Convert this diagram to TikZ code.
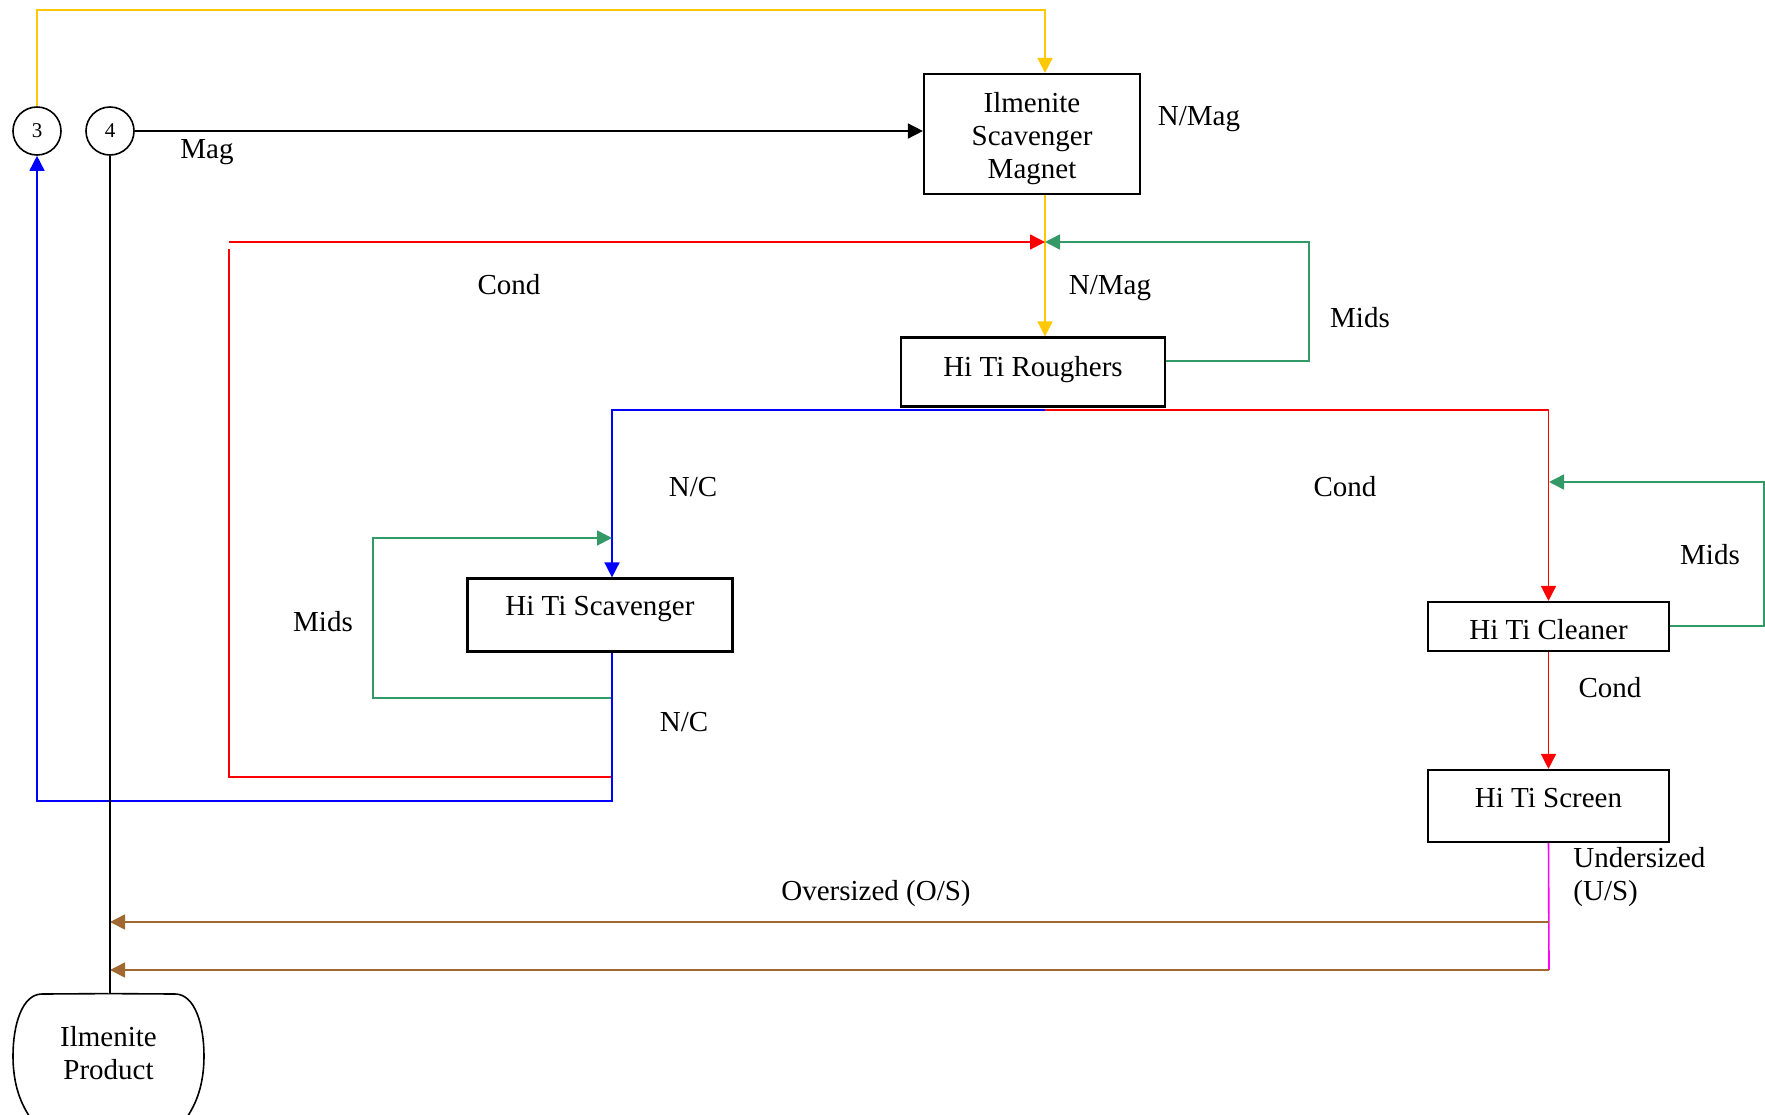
\documentclass[tikz,border=0pt]{standalone}
\usepackage{fontspec}
\setmainfont{Liberation Serif}
\usetikzlibrary{arrows.meta}
\definecolor{cyel}{RGB}{255,200,0}
\definecolor{cred}{RGB}{255,0,0}
\definecolor{cgreen}{RGB}{51,153,102}
\definecolor{cblue}{RGB}{0,0,255}
\definecolor{cbrown}{RGB}{160,105,50}
\definecolor{cmag}{RGB}{255,0,255}
\tikzset{
  unitbox/.style={draw=black,line width=1.1pt,inner sep=0pt},
  numcirc/.style={circle,draw=black,line width=0.8pt,minimum size=24pt,inner sep=0pt,font=\fontsize{10.5}{12}\selectfont},
  lbl/.style={inner sep=0pt,font=\fontsize{14.5}{16.5}\selectfont,align=center},
  flow/.style={line width=0.8pt},
  tip/.style={-{Triangle[length=7.5pt,width=7.5pt]}}
}
\begin{document}
\begin{tikzpicture}[x=0.5pt,y=-0.5pt]
\useasboundingbox (0,0) rectangle (1765,1114);
\clip (0,0) rectangle (1765,1114);
% nodes
\node[numcirc] (c3) at (37,131) {3};
\node[numcirc] (c4) at (110,131) {4};
\node[unitbox,minimum width=108pt,minimum height=60pt] (ism) at (1032,134) {};
\node[lbl] (ismt) at (1032,138.5) {Ilmenite\\Scavenger\\Magnet};
\node[unitbox,minimum width=132pt,minimum height=34.5pt] (rough) at (1033,372) {};
\node[lbl] (rought) at (1033,370) {Hi Ti Roughers};
\node[unitbox,minimum width=132.5pt,minimum height=36.5pt] (scav) at (600,615) {};
\node[lbl] (scavt) at (600,609.5) {Hi Ti Scavenger};
\node[unitbox,minimum width=120.5pt,minimum height=24.5pt] (clean) at (1548.5,626.5) {};
\node[lbl] (cleant) at (1548.5,630) {Hi Ti Cleaner};
\node[unitbox,minimum width=120.5pt,minimum height=36pt] (screen) at (1548.5,806) {};
\node[lbl] (screent) at (1548.5,798) {Hi Ti Screen};
\node[lbl,minimum width=95.5pt,minimum height=59.5pt] (prod) at (108.5,1053.5) {Ilmenite\\Product};
\draw[line width=0.8pt] (prod.north) -- (175,994) .. controls (195,994) and (204,1025) .. (204,1056) .. controls (204,1085) and (196,1105) .. (185,1120);
\draw[line width=0.8pt] (prod.north) -- (42,994) .. controls (22,994) and (13,1025) .. (13,1056) .. controls (13,1085) and (21,1105) .. (32,1120);
% labels
\node[lbl] (lmag) at (207,152) {Mag};
\node[lbl] (lnmag1) at (1199,119) {N/Mag};
\node[lbl] (lcond1) at (509,285) {Cond};
\node[lbl] (lnmag2) at (1110,288) {N/Mag};
\node[lbl] (lmids1) at (1360,318) {Mids};
\node[lbl] (lnc1) at (693,487) {N/C};
\node[lbl] (lcond2) at (1345,487) {Cond};
\node[lbl] (lmids2) at (1710,555) {Mids};
\node[lbl] (lmids3) at (323,622) {Mids};
\node[lbl] (lnc2) at (684,722) {N/C};
\node[lbl] (lcond3) at (1610,688) {Cond};
\node[lbl] (los) at (876,894) {Oversized (O/S)};
\node[lbl,align=left,anchor=west] (lus) at (1573,877) {Undersized\\(U/S)};
% coordinates
\coordinate (ytop) at (1045,10);
\coordinate (jn) at (1045,242);
\coordinate (split) at (1045,410);
\coordinate (scx) at (612,0);
\coordinate (rb) at (612,777);
\coordinate (rtop) at (229,249);
\coordinate (rleft) at (229,242);
\coordinate (gr) at (1309,361);
\coordinate (sgtop) at (612,538);
\coordinate (sgleft) at (373,698);
\coordinate (sgb) at (612,698);
\coordinate (bb) at (612,801);
\coordinate (cgr) at (1764,626);
\coordinate (cgin) at (1549,482);
\coordinate (b1) at (1549,922);
\coordinate (b2) at (1549,970);
% connectors
\draw[flow,cyel,tip] (c3.north) |- (ytop) -- (ytop |- ism.north);
\draw[flow,black,tip] (c4.east) -- (c4.east -| ism.west);
\draw[flow,cyel,tip] (jn |- ism.south) -- (jn |- rough.north);
\draw[flow,cred] (rb) -| (rtop);
\draw[flow,cred,tip] (rleft) -- (jn);
\draw[flow,cgreen,tip] (gr -| rough.east) -- (gr) |- (jn);
\draw[flow,cblue,tip] (split) -| (scx |- scav.north);
\draw[flow,cred,tip] (split) -| (clean.north);
\draw[flow,cgreen,tip] (sgb) -| (sgleft |- sgtop) -- (sgtop);
\draw[flow,cblue,tip] (scx |- scav.south) -- (bb) -| (c3.south);
\draw[flow,cgreen,tip] (cgr -| clean.east) -- (cgr) |- (cgin);
\draw[flow,cred,tip] (clean.south) -- (screen.north);
\draw[flow,cmag] (screen.south) -- (b2);
\draw[flow,cbrown,tip] (b1) -- (b1 -| c4.south);
\draw[flow,cbrown,tip] (b2) -- (b2 -| c4.south);
\draw[flow,black] (c4.south) -- (c4.south |- prod.north);
\end{tikzpicture}
\end{document}
